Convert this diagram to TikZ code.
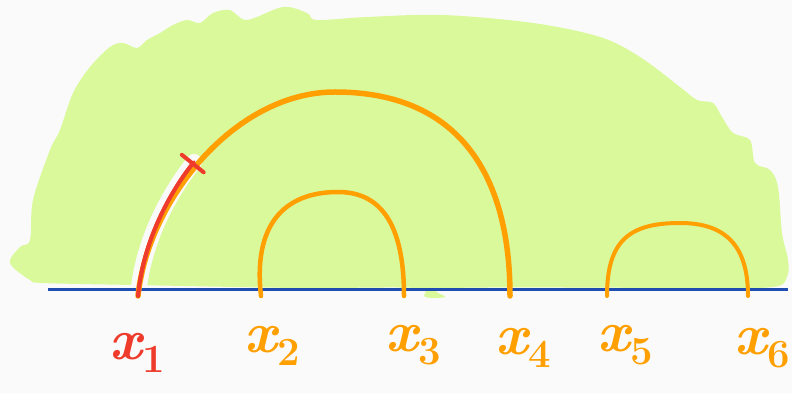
\documentclass[tikz,border=0pt]{standalone}
\usetikzlibrary{arrows.meta}
\definecolor{bg}{HTML}{FAFAFA}
\definecolor{blobgreen}{HTML}{DAF99B}
\definecolor{arcorange}{HTML}{FF9F00}
\definecolor{arcred}{HTML}{EE3B2B}
\definecolor{lineblue}{HTML}{1F4DB2}
\newcommand{\xlab}[1]{{\fontsize{58}{58}\selectfont\bfseries\itshape x}\raisebox{-13pt}{\fontsize{40}{40}\selectfont\bfseries #1}}
\begin{document}
\begin{tikzpicture}[x=1pt,y=1pt,
  arcline/.style={draw=arcorange, line width=4.5pt, line cap=round, line join=round},
  redline/.style={draw=arcred, line width=4pt, line cap=round, line join=round},
  lab/.style={inner sep=0pt}]
\fill[bg] (0,0) rectangle (792,393);
\useasboundingbox (0,0) rectangle (792,393);
% green blob
\fill[blobgreen] plot[smooth cycle, tension=0.55] coordinates {
 (43,110) (30,113) (10,130) (20,146) (30,153) (33,193) (50,243) (60,263) (73,300)
 (90,326) (110,346) (123,350) (137,345) (147,353) (160,360) (173,368) (187,373)
 (200,370) (213,380) (230,383) (247,373) (283,386) (307,380) (317,373) (367,376)
 (443,378) (533,370) (600,356) (640,336) (680,306) (697,293) (713,290) (722,276)
 (733,260) (750,253) (755,230) (770,223) (778,206) (782,160) (788,133) (787,116)
 (773,106) (700,105) (455,105) (445,96) (425,96) (415,105) (300,105) (133,108)};
% points on the line
\coordinate (p1) at (138,97);
\coordinate (p2) at (261,97);
\coordinate (p3) at (404,97);
\coordinate (p4) at (510,97);
\coordinate (p5) at (607,97);
\coordinate (p6) at (748,97);
\coordinate (t14) at (335,301);
\coordinate (t23) at (338,201);
\coordinate (t56) at (680,170);
\coordinate (r) at (194,231);
\coordinate (ls) at (48,103);
\coordinate (le) at (788,103);
% white halo round the red stroke
\draw[bg, line width=16pt, line cap=round] (p1) .. controls +(5,60) and +(-20,-25) .. (r);
% axis
\draw[lineblue, line width=3pt] (ls) -- (le);
% arcs
\draw[arcline, line width=5.5pt] (p1) .. controls +(10,96) and +(-100,0) .. (t14)
  .. controls +(120,0) and +(0,126) .. (p4);
\draw[arcline] (p2) .. controls +(-8,70) and +(-55,0) .. (t23)
  .. controls +(40,0) and +(0,76) .. (p3);
\draw[arcline, line width=4pt] (p5) .. controls +(0,56) and +(-50,0) .. (t56)
  .. controls +(45,0) and +(0,51) .. (p6);
% red highlighted part
\draw[redline, line width=3.5pt, xshift=-3pt, yshift=2pt] (p1) .. controls +(5,60) and +(-20,-25) .. (r);
\draw[redline, -{Bar[width=28pt, line width=4pt, round]}] (p1) .. controls +(6,60) and +(-20,-25) .. (r);
% labels
\node[lab, text=arcred] (l1) at (137,40) {\xlab{1}};
\node[lab, text=arcorange] (l2) at (272,47) {\xlab{2}};
\node[lab, text=arcorange] (l3) at (413,48) {\xlab{3}};
\node[lab, text=arcorange] (l4) at (523,45) {\xlab{4}};
\node[lab, text=arcorange] (l5) at (625,48) {\xlab{5}};
\node[lab, text=arcorange] (l6) at (762,45) {\xlab{6}};
\end{tikzpicture}
\end{document}
